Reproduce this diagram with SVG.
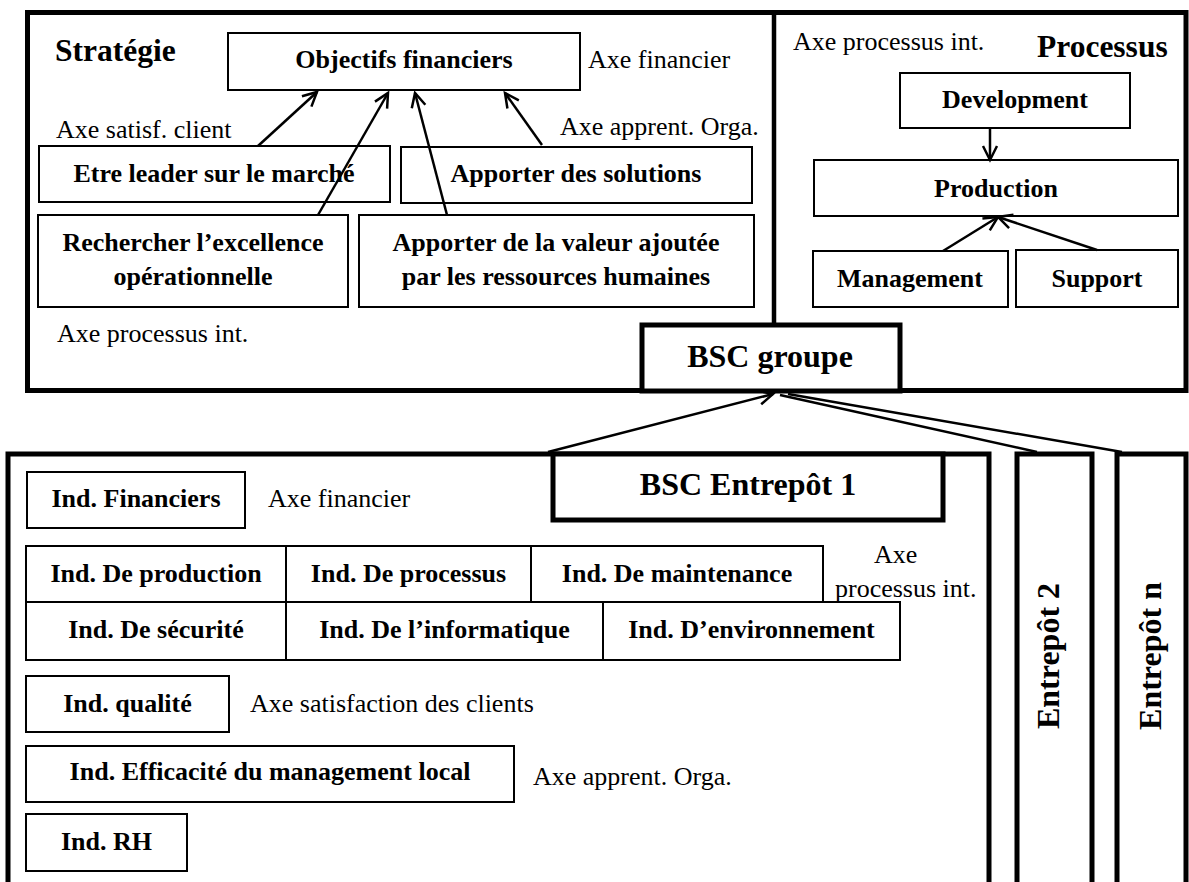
<svg xmlns="http://www.w3.org/2000/svg" width="1189" height="882" viewBox="0 0 1189 882">
<style>
text{font-family:"Liberation Serif","Times New Roman",serif;fill:#000}
.b{font-weight:bold;font-size:26px}
.t{font-weight:bold;font-size:32px}
.r{font-size:26px}
.m{text-anchor:middle}
.box{fill:#fff;stroke:#000;stroke-width:2}
.thick{fill:none;stroke:#000;stroke-width:5}
.tbox{fill:#fff;stroke:#000;stroke-width:5}
.c{fill:none;stroke:#000;stroke-width:2.5}
.a{marker-end:url(#arr)}
</style>
<defs>
<marker id="arr" markerUnits="userSpaceOnUse" viewBox="-18 -10 20 20" refX="0" refY="0" markerWidth="20" markerHeight="20" orient="auto" overflow="visible">
<path d="M-14,-7 L0,0 L-14,7" fill="none" stroke="#000" stroke-width="2.5"/>
</marker>
</defs>
<rect x="0" y="0" width="1189" height="882" fill="#fff"/>

<g id="frames">
<rect class="thick" x="27.5" y="12.5" width="1158.5" height="378"/>
<line x1="774" y1="12.5" x2="774" y2="325" stroke="#000" stroke-width="4.5"/>
<path class="thick" d="M8,882 V454 H989 V882"/>
</g>

<g id="strategie">
<text class="t" x="55" y="61" style="font-size:31.5px">Stratégie</text>
<text class="r" x="588" y="68">Axe financier</text>
<text class="r" x="56" y="138">Axe satisf. client</text>
<text class="r" x="560" y="135">Axe apprent. Orga.</text>
<text class="r" x="57" y="342">Axe processus int.</text>
</g>
<g id="obj-fin"><rect class="box" x="228" y="33" width="352" height="57"/><text class="b m" x="404" y="68">Objectifs financiers</text></g>
<g id="leader"><rect class="box" x="39" y="146" width="351" height="56"/><text class="b m" x="214" y="182">Etre leader sur le marché</text></g>
<g id="solutions"><rect class="box" x="401" y="147" width="351" height="56"/><text class="b m" x="576" y="182">Apporter des solutions</text></g>
<g id="excellence"><rect class="box" x="38" y="215" width="310" height="92"/><text class="b m" x="193" y="251">Rechercher l’excellence</text><text class="b m" x="193" y="285">opérationnelle</text></g>
<g id="valeur"><rect class="box" x="359" y="215" width="395" height="92"/><text class="b m" x="556" y="251">Apporter de la valeur ajoutée</text><text class="b m" x="556" y="285">par les ressources humaines</text></g>

<g id="processus">
<text class="r" x="793" y="50">Axe processus int.</text>
<text class="t" x="1037" y="57" style="font-size:31.5px">Processus</text>
</g>
<g id="development"><rect class="box" x="900" y="73" width="230" height="55"/><text class="b m" x="1015" y="108">Development</text></g>
<g id="production"><rect class="box" x="814" y="160" width="364" height="56"/><text class="b m" x="996" y="197">Production</text></g>
<g id="management"><rect class="box" x="813" y="251" width="195" height="56"/><text class="b m" x="910" y="287">Management</text></g>
<g id="support"><rect class="box" x="1016" y="250" width="162" height="57"/><text class="b m" x="1097" y="287">Support</text></g>

<g id="bsc-groupe"><rect class="tbox" x="642" y="325" width="258" height="66"/><text class="t m" x="770" y="367">BSC groupe</text></g>

<g id="entrepot1">
<rect class="tbox" x="553" y="454" width="390" height="66"/>
<text class="t m" x="748" y="495">BSC Entrepôt 1</text>
</g>
<g id="entrepot2"><path class="thick" d="M1017,882 V454 H1092 V882"/><text class="t m" transform="translate(1059,656) rotate(-90)">Entrepôt 2</text></g>
<g id="entrepotn"><path class="thick" d="M1117,882 V454 H1186 V882"/><text class="t m" transform="translate(1161,656) rotate(-90)">Entrepôt n</text></g>

<g id="ind-fin"><rect class="box" x="27" y="472" width="218" height="56"/><text class="b m" x="136" y="507">Ind. Financiers</text></g>
<text class="r" x="268" y="507">Axe financier</text>
<g id="ind-prod"><rect class="box" x="26" y="546" width="260" height="56"/><text class="b m" x="156" y="582">Ind. De production</text></g>
<g id="ind-proc"><rect class="box" x="286" y="546" width="245" height="56"/><text class="b m" x="408.5" y="582">Ind. De processus</text></g>
<g id="ind-maint"><rect class="box" x="531" y="546" width="292" height="56"/><text class="b m" x="677" y="582">Ind. De maintenance</text></g>
<text class="r" x="874" y="563">Axe</text>
<text class="r" x="835" y="597">processus int.</text>
<g id="ind-secu"><rect class="box" x="26" y="602" width="260" height="58"/><text class="b m" x="156" y="638">Ind. De sécurité</text></g>
<g id="ind-info"><rect class="box" x="286" y="602" width="317" height="58"/><text class="b m" x="444.5" y="638">Ind. De l’informatique</text></g>
<g id="ind-env"><rect class="box" x="603" y="602" width="297" height="58"/><text class="b m" x="751.5" y="638">Ind. D’environnement</text></g>
<g id="ind-qual"><rect class="box" x="26" y="676" width="203" height="56"/><text class="b m" x="127.5" y="712">Ind. qualité</text></g>
<text class="r" x="250" y="712">Axe satisfaction des clients</text>
<g id="ind-eff"><rect class="box" x="26" y="746" width="488" height="56"/><text class="b m" x="270" y="780">Ind. Efficacité du management local</text></g>
<text class="r" x="533" y="785">Axe apprent. Orga.</text>
<g id="ind-rh"><rect class="box" x="26" y="814" width="161" height="57"/><text class="b m" x="106.5" y="850">Ind. RH</text></g>

<g id="connectors">
<line class="c a" x1="258" y1="146" x2="317" y2="92"/>
<line class="c a" x1="318" y1="215" x2="388" y2="93"/>
<line class="c a" x1="447" y1="215" x2="415" y2="93"/>
<line class="c a" x1="542" y1="145" x2="505" y2="93"/>
<line class="c a" x1="990" y1="128" x2="990" y2="160"/>
<line class="c a" x1="943" y1="251" x2="998" y2="217"/>
<line class="c a" x1="1097" y1="250" x2="998" y2="217"/>
<line class="c a" x1="548" y1="452" x2="773" y2="394"/>
<line class="c" x1="780" y1="395" x2="1037" y2="452"/>
<line class="c" x1="788" y1="394" x2="1122" y2="452"/>
</g>
</svg>
